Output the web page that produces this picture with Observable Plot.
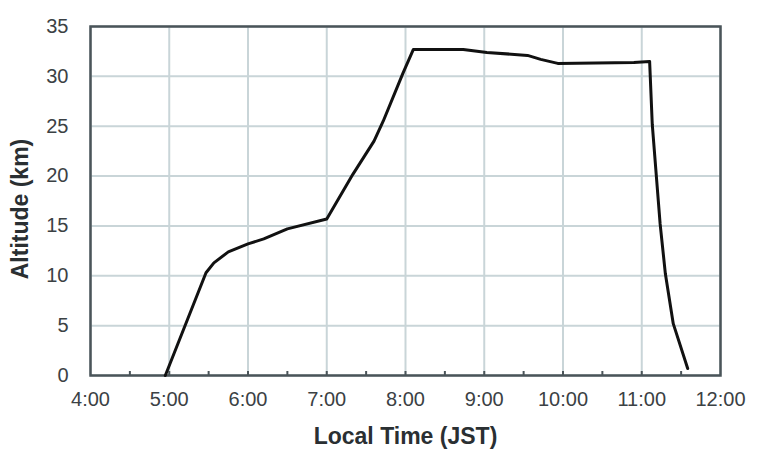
<!DOCTYPE html>
<html>
<head>
<meta charset="utf-8">
<script src="https://cdn.jsdelivr.net/npm/d3@7"></script>
<script src="https://cdn.jsdelivr.net/npm/@observablehq/plot@0.6"></script>
<style>
  html, body { margin: 0; padding: 0; background: #fff; }
  #chart { width: 763px; height: 462px; }
</style>
</head>
<body>
<div id="chart"></div>
<script>
// Local time (JST) and altitude (km)
const times = ["4:57","5:28","5:34","5:45","6:00","6:12","6:30","7:00","7:20","7:36","7:43","7:58","8:06","8:44","9:02","9:33","9:43","9:56","10:54","11:06","11:08","11:11","11:14","11:18","11:24","11:35"];
const altitudes = [0, 10.3, 11.3, 12.4, 13.2, 13.7, 14.7, 15.7, 20.2, 23.5, 25.5, 30.3, 32.7, 32.7, 32.4, 32.1, 31.7, 31.3, 31.4, 31.5, 25.2, 20.2, 15.2, 10.2, 5.2, 0.7];
const hourTicks = [4, 5, 6, 7, 8, 9, 10, 11, 12];
const halfHourTicks = [4.5, 5, 5.5, 6, 6.5, 7, 7.5, 8, 8.5, 9, 9.5, 10, 10.5, 11, 11.5];
const altTicks = [0, 5, 10, 15, 20, 25, 30, 35];

const toHours = s => { const [h, m] = s.split(":").map(Number); return h + m / 60; };
const data = times.map((t, i) => ({time: toHours(t), alt: altitudes[i]}));

const font = "'Liberation Sans', Arial, sans-serif";
const textColor = "#3b4144";
const labelColor = "#2a2f32";
const gridColor = "#c9d5d8";

const chart = Plot.plot({
  width: 763,
  height: 462,
  marginLeft: 90,
  marginRight: 43,
  marginTop: 26,
  marginBottom: 87,
  style: {fontFamily: font, fontSize: "20px", color: textColor, background: "#fff"},
  x: {domain: [4, 12]},
  y: {domain: [0, 35]},
  marks: [
    Plot.gridX(hourTicks, {stroke: gridColor, strokeOpacity: 1, strokeWidth: 2}),
    Plot.gridY(altTicks, {stroke: gridColor, strokeOpacity: 1, strokeWidth: 2}),
    Plot.axisX(hourTicks, {
      tickFormat: h => `${h}:00`, tickSize: 0, tickPadding: 16,
      fontSize: 20, fill: textColor,
      label: "Local Time (JST)", labelAnchor: "center", labelArrow: "none", labelOffset: 68
    }),
    Plot.axisX(halfHourTicks, {tickSize: -4, text: null, label: null, stroke: "#4a5459", strokeWidth: 2}),
    Plot.axisY(altTicks, {
      tickSize: 0, tickPadding: 22, fontSize: 20, fill: textColor,
      label: "Altitude (km)", labelAnchor: "center", labelArrow: "none", labelOffset: 79
    }),
    Plot.frame({stroke: "#4a5459", strokeWidth: 2.5}),
    Plot.line(data, {x: "time", y: "alt", stroke: "#111", strokeWidth: 3, strokeLinejoin: "round"})
  ]
});

document.getElementById("chart").appendChild(chart);
// axis title styling
chart.querySelectorAll("g[aria-label='x-axis label'] text, g[aria-label='y-axis label'] text").forEach(t => {
  t.style.fontSize = "23px";
  t.style.fontWeight = "bold";
  t.setAttribute("fill", labelColor);
});
chart.querySelectorAll("g[aria-label='y-axis label'] text").forEach(t => {
  const tr = t.getAttribute("transform") || "";
  t.setAttribute("transform", "translate(0,8) " + tr);
});
</script>
</body>
</html>
